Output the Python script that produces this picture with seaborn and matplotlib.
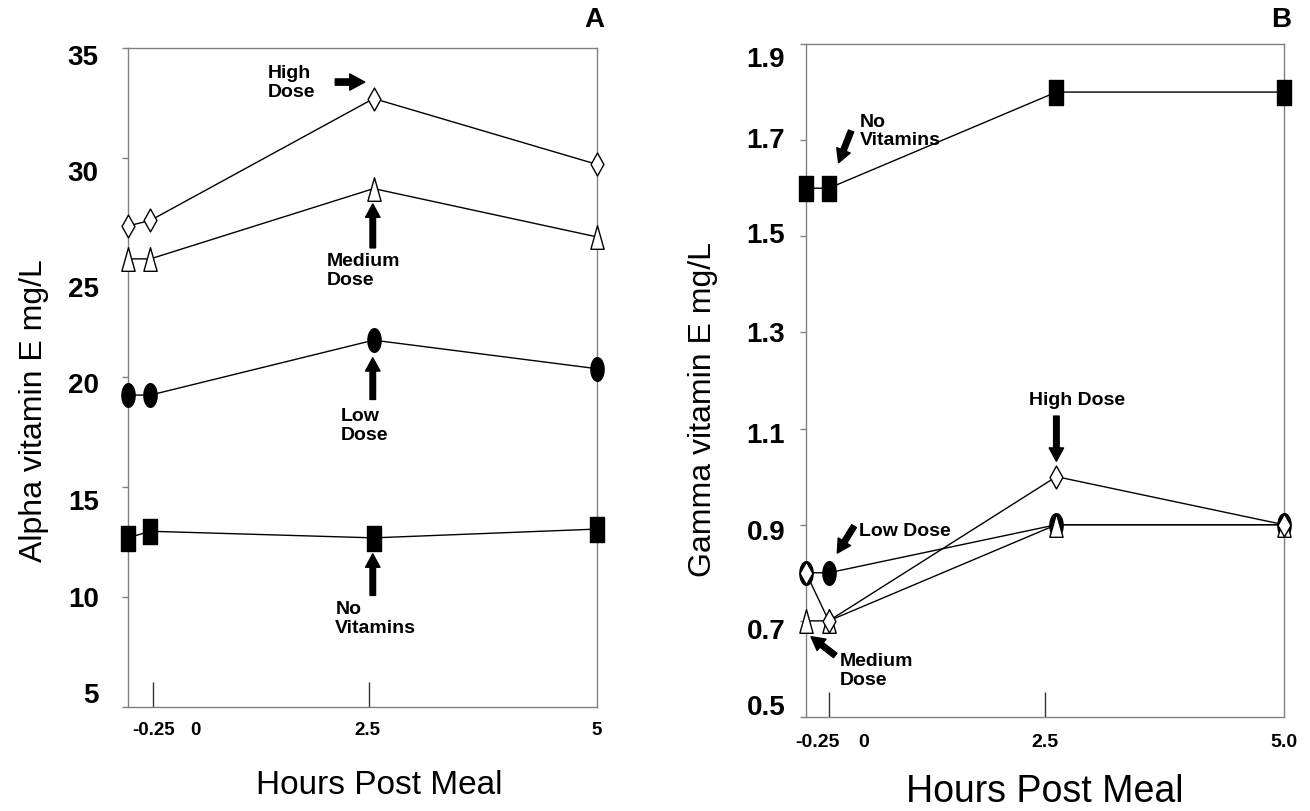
import numpy as np
import pandas as pd
import matplotlib
matplotlib.use("Agg")
import matplotlib.pyplot as plt
import matplotlib.transforms as mtransforms
import seaborn as sns
from matplotlib.path import Path
from matplotlib.markers import MarkerStyle

# ---------------- data ----------------
hours = [-0.25, 0.0, 2.5, 5.0]
doses = ["No Vitamins", "Low Dose", "Medium Dose", "High Dose"]

alpha_none = [12.7, 13.0, 12.7, 13.1]
alpha_low = [19.2, 19.2, 21.7, 20.4]
alpha_medium = [25.4, 25.4, 28.6, 26.4]
alpha_high = [26.9, 27.15, 32.7, 29.7]

gamma_none = [1.60, 1.60, 1.80, 1.80]
gamma_low = [0.80, 0.80, 0.90, 0.90]
gamma_medium = [0.70, 0.70, 0.90, 0.90]
gamma_high = [0.80, 0.70, 1.00, 0.90]

alpha_yticks = [5, 10, 15, 20, 25, 30, 35]
alpha_ytick_labels = ["5", "10", "15", "20", "25", "30", "35"]
gamma_yticks = [0.5, 0.7, 0.9, 1.1, 1.3, 1.5, 1.7, 1.9]
gamma_ytick_labels = ["0.5", "0.7", "0.9", "1.1", "1.3", "1.5", "1.7", "1.9"]
alpha_xtick_labels = ["-0.25", "0", "2.5", "5"]
gamma_xtick_labels = ["-0.25", "0", "2.5", "5.0"]

# ---------------- layout (pixel offsets of the y tick labels, as in the source) ----
alpha_label_shift = [-14, 0, 13, 6, 19, 13, 7]
gamma_label_shift = [-12, 8, 5, 4, 0, -3, -2, 13]

# ---------------- style ----------------
sns.set_theme(style="ticks")
plt.rcParams["font.family"] = ["Liberation Sans", "DejaVu Sans"]

SPINE = "#808080"
w = 0.28
def mk(verts):
    return MarkerStyle(Path(verts, closed=True))

SQUARE = mk([(-w, -.5), (w, -.5), (w, .5), (-w, .5), (-w, -.5)])
ELLIPSE = mk([(w * np.cos(t), .5 * np.sin(t)) for t in np.linspace(0, 2 * np.pi, 49)])
DIAMOND = mk([(0, .5), (w, 0), (0, -.5), (-w, 0), (0, .5)])
TRIANGLE = mk([(0, .5), (w, -.5), (-w, -.5), (0, .5)])

marker_style = {
    "No Vitamins": (SQUARE, "black", 18),
    "Low Dose": (ELLIPSE, "black", 17),
    "Medium Dose": (TRIANGLE, "white", 17),
    "High Dose": (DIAMOND, "white", 16.5),
}

alpha_df = pd.DataFrame({
    "hours": hours * 4,
    "value": alpha_none + alpha_low + alpha_medium + alpha_high,
    "dose": np.repeat(doses, len(hours)),
})
gamma_df = pd.DataFrame({
    "hours": hours * 4,
    "value": gamma_none + gamma_low + gamma_medium + gamma_high,
    "dose": np.repeat(doses, len(hours)),
})

W, H = 1310, 811
fig = plt.figure(figsize=(W / 100, H / 100), dpi=100)

def px_axes(left, right, top, bottom):
    return fig.add_axes([left / W, 1 - bottom / H, (right - left) / W, (bottom - top) / H])

axA = px_axes(128, 597, 48, 707)
axB = px_axes(806, 1284, 44, 717)


def draw(ax, df):
    for i, d in enumerate(doses):
        m, fc, ms = marker_style[d]
        sns.lineplot(data=df[df["dose"] == d], x="hours", y="value", ax=ax,
                     color="black", linewidth=1.0, marker=m, markersize=ms,
                     markerfacecolor=fc, markeredgecolor="black",
                     markeredgewidth=1.0, errorbar=None, clip_on=False,
                     zorder=3 + i, legend=False)


def style_axes(ax, yticks, ylabels, ysize, ypad, shifts, xlab_pos, xlabels,
               xsize, marks, xpad):
    ax.set_xlim(-0.25, 5)
    ax.set_ylim(yticks[0], yticks[-1])
    for s in ax.spines.values():
        s.set_color(SPINE)
        s.set_linewidth(1.0)
        s.set_visible(True)
    ax.set_yticks(yticks, labels=ylabels)
    ax.tick_params(axis="y", which="major", direction="out", length=4,
                   width=1, color=SPINE, pad=ypad, labelsize=ysize,
                   left=True, right=False)
    ax.set_xticks(xlab_pos, labels=xlabels)
    ax.tick_params(axis="x", which="major", length=0, pad=xpad,
                   labelsize=xsize, bottom=True, top=False)
    ax.set_xticks(marks, minor=True)
    ax.tick_params(axis="x", which="minor", direction="in", length=18,
                   width=1, color="#333333", bottom=True, top=False)
    ax.tick_params(axis="y", which="minor", left=False, right=False)
    for lab in ax.get_xticklabels() + ax.get_yticklabels():
        lab.set_fontweight("bold")
        lab.set_color("black")
    for lab, dy in zip(ax.get_yticklabels(), shifts):
        lab.set_transform(lab.get_transform() +
                          mtransforms.ScaledTranslation(0, -dy / 100, fig.dpi_scale_trans))


def arrow(ax, tail, tip, scale=16):
    ax.annotate("", xy=tip, xytext=tail,
                arrowprops=dict(arrowstyle="simple,head_length=0.6,head_width=0.65,tail_width=0.25",
                                fc="black", ec="black", mutation_scale=scale,
                                shrinkA=0, shrinkB=0), zorder=10)


# ---------------- panel A ----------------
draw(axA, alpha_df)
style_axes(axA, alpha_yticks, alpha_ytick_labels, 20, 17, alpha_label_shift,
           [0.04, 0.5, 2.43, 5.0], alpha_xtick_labels, 13.5, [0.03, 2.45], 10.5)
axA.set_xlabel("Hours Post Meal", fontsize=24, color="black")
axA.xaxis.set_label_coords(0.536, -0.095)
axA.set_ylabel("Alpha vitamin E mg/L", fontsize=23, color="black")
axA.yaxis.set_label_coords(-0.168, 0.45)

tk = dict(fontsize=14, fontweight="bold", ha="left", va="center",
          linespacing=1.15, color="black")
axA.text(1.31, 33.4, "High\nDose", **tk)
arrow(axA, (2.07, 33.45), (2.40, 33.45), scale=18)
axA.text(1.97, 24.85, "Medium\nDose", **tk)
arrow(axA, (2.49, 25.9), (2.49, 27.9))
axA.text(2.13, 17.8, "Low\nDose", **tk)
arrow(axA, (2.49, 19.0), (2.49, 20.9))
axA.text(2.07, 9.0, "No\nVitamins", **tk)
arrow(axA, (2.49, 10.08), (2.49, 11.97))

# ---------------- panel B ----------------
draw(axB, gamma_df)
style_axes(axB, gamma_yticks, gamma_ytick_labels, 20, 11, gamma_label_shift,
           [-0.12, 0.38, 2.37, 5.0], gamma_xtick_labels, 14, [0.0, 2.38], 12)
axB.set_xlabel("Hours Post Meal", fontsize=27, color="black")
axB.xaxis.set_label_coords(0.5, -0.085)
axB.set_ylabel("Gamma vitamin E mg/L", fontsize=23, color="black")
axB.yaxis.set_label_coords(-0.184, 0.457)

axB.text(0.337, 1.718, "No\nVitamins", **tk)
arrow(axB, (0.245, 1.719), (0.108, 1.653))
axB.text(2.73, 1.158, "High Dose", **{**tk, "ha": "center"})
arrow(axB, (2.50, 1.126), (2.50, 1.032))
axB.text(0.337, 0.886, "Low Dose", **tk)
arrow(axB, (0.278, 0.897), (0.094, 0.841))
axB.text(0.117, 0.595, "Medium\nDose", **tk)
arrow(axB, (0.071, 0.628), (-0.195, 0.667))

fig.text(594 / W, 1 - 20 / H, "A", ha="center", va="center", fontsize=20,
         fontweight="bold", color="black")
fig.text(1281 / W, 1 - 20 / H, "B", ha="center", va="center", fontsize=20,
         fontweight="bold", color="black")

fig.savefig("out.png", dpi=100)
